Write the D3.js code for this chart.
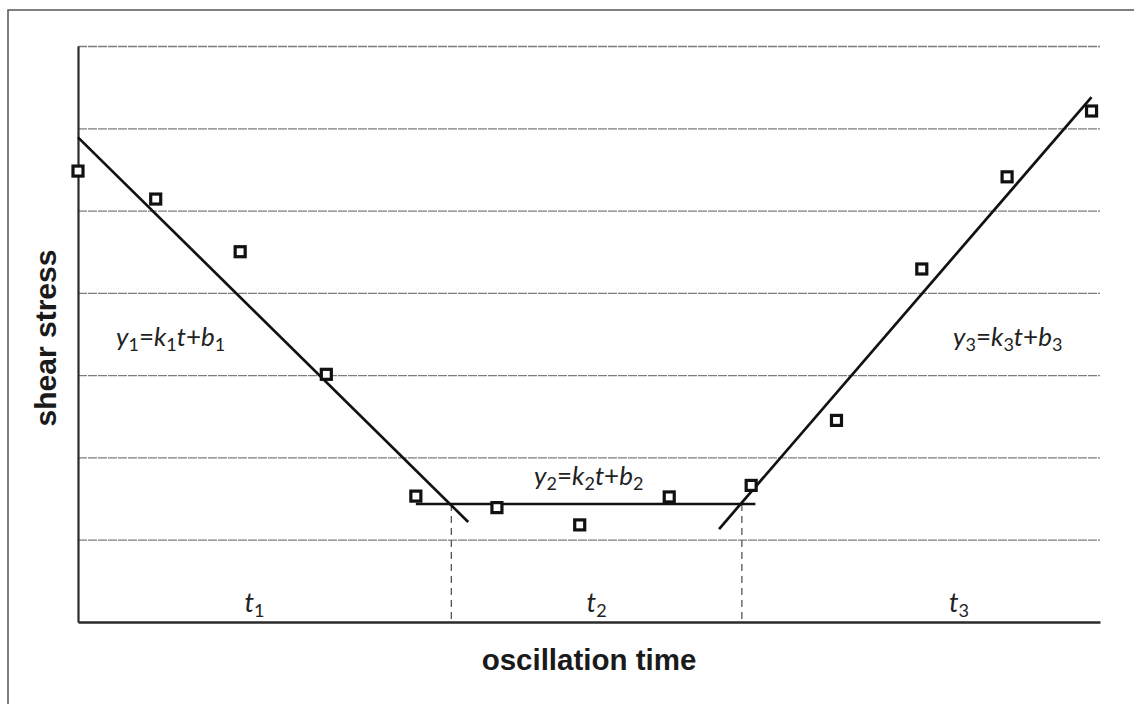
<!DOCTYPE html>
<html>
<head>
<meta charset="utf-8">
<script src="https://cdn.jsdelivr.net/npm/d3@7"></script>
<style>
  body { margin: 0; background: #fff; }
  svg { display: block; }
</style>
</head>
<body>
<div id="container"></div>
<script>
const times  = [0, 0.92, 1.92, 2.94, 4.0, 4.96, 5.94, 7.0, 7.97, 8.98, 9.99, 11.0, 12.0];
const stress = [5.48, 5.14, 4.50, 3.01, 1.53, 1.39, 1.18, 1.52, 1.66, 2.45, 4.29, 5.41, 6.21];

// fitted segments: [t start, stress start, t end, stress end]
const fit1 = [0.0, 5.89, 4.62, 1.215];
const fit2 = [4.0, 1.434, 8.02, 1.434];
const fit3 = [7.59, 1.13, 12.0, 6.38];

// stage boundaries and labels
const boundaries = [4.42, 7.86];
const stageNames = ["1", "2", "3"];
const stageCenters = [2.09, 6.14, 10.43];

// grid levels
const gridLevels = [1, 2, 3, 4, 5, 6, 7];

// equation labels: index, t position, stress position
const eqIndex = ["1", "2", "3"];
const eqT = [0.45, 5.4, 10.36];
const eqV = [3.35, 1.67, 3.35];

const W = 1134, H = 704;
const margin = { top: 46, right: 34, bottom: 82, left: 78 };
const width = W - margin.left - margin.right;
const height = H - margin.top - margin.bottom;

const svg = d3.select("#container").append("svg")
    .attr("width", W)
    .attr("height", H);

// outer frame (top and left edges)
svg.append("path")
    .attr("d", `M8,${H} L8,10 L${W},10`)
    .attr("fill", "none")
    .attr("stroke", "#555")
    .attr("stroke-width", 1.5);

const g = svg.append("g")
    .attr("transform", `translate(${margin.left},${margin.top})`);

const x = d3.scaleLinear().domain([0, 12.1]).range([0, width]);
const y = d3.scaleLinear().domain([0, 7]).range([height, 0]);

// horizontal grid
g.append("g")
    .attr("class", "grid")
    .call(d3.axisLeft(y).tickValues(gridLevels).tickSize(-width).tickFormat(""))
    .call(s => s.select(".domain").remove())
    .call(s => s.selectAll("line")
        .attr("stroke", "#7d7d7d")
        .attr("stroke-width", 1.3)
        .attr("stroke-dasharray", "9,1"));

// axes
g.append("g")
    .attr("transform", `translate(0,${height})`)
    .call(d3.axisBottom(x).tickValues([]).tickSizeOuter(0))
    .call(s => s.select(".domain").attr("stroke", "#2a2a2a").attr("stroke-width", 2.4));

g.append("g")
    .call(d3.axisLeft(y).tickValues([]).tickSizeOuter(0))
    .call(s => s.select(".domain").attr("stroke", "#2a2a2a").attr("stroke-width", 2.2));

// stage boundaries
g.append("g").selectAll("line")
    .data(boundaries)
  .enter().append("line")
    .attr("x1", d => x(d))
    .attr("x2", d => x(d))
    .attr("y1", y(fit2[1]))
    .attr("y2", y(0))
    .attr("stroke", "#555")
    .attr("stroke-width", 1.3)
    .attr("stroke-dasharray", "7,5");

// fitted lines
g.append("g").selectAll("line")
    .data([fit1, fit2, fit3])
  .enter().append("line")
    .attr("x1", d => x(d[0]))
    .attr("y1", d => y(d[1]))
    .attr("x2", d => x(d[2]))
    .attr("y2", d => y(d[3]))
    .attr("stroke", "#111")
    .attr("stroke-width", 2.7);

// data markers
const pts = times.map((t, i) => ({ t: t, v: stress[i] }));
g.append("g").selectAll("rect")
    .data(pts)
  .enter().append("rect")
    .attr("x", d => x(d.t) - 5)
    .attr("y", d => y(d.v) - 5)
    .attr("width", 10)
    .attr("height", 10)
    .attr("fill", "#fff")
    .attr("stroke", "#111")
    .attr("stroke-width", 3.2);

const mathFont = "Lato, 'Open Sans', sans-serif";

// stage labels t1, t2, t3
stageNames.forEach((n, i) => {
    const t = g.append("text")
        .attr("x", x(stageCenters[i]))
        .attr("y", height - 10)
        .attr("text-anchor", "middle")
        .attr("font-family", mathFont)
        .attr("font-size", 27)
        .attr("fill", "#222");
    t.append("tspan").attr("font-style", "italic").text("t");
    t.append("tspan").attr("font-size", 18).attr("dy", 5).text(n);
});

// equations y_i = k_i t + b_i
eqIndex.forEach((n, i) => {
    const t = g.append("text")
        .attr("x", x(eqT[i]))
        .attr("y", y(eqV[i]))
        .attr("font-family", mathFont)
        .attr("font-size", 26)
        .attr("fill", "#222");
    const parts = [["y", n], ["=", null], ["k", n], ["t", null], ["+", null], ["b", n]];
    let shifted = false;
    parts.forEach(([main, sub]) => {
        const m = t.append("tspan")
            .attr("font-style", /[a-z]/.test(main) ? "italic" : "normal")
            .text(main);
        if (shifted) { m.attr("dy", -5); shifted = false; }
        if (sub) {
            t.append("tspan").attr("font-size", 18).attr("dy", 5).text(sub);
            shifted = true;
        }
    });
});

// axis titles
svg.append("text")
    .attr("x", 589)
    .attr("y", 670)
    .attr("text-anchor", "middle")
    .attr("font-family", "'Liberation Sans', Arial, sans-serif")
    .attr("font-weight", "bold")
    .attr("font-size", 29.5)
    .attr("fill", "#1a1a1a")
    .text("oscillation time");

svg.append("text")
    .attr("transform", `translate(56,338) rotate(-90)`)
    .attr("text-anchor", "middle")
    .attr("font-family", "'Liberation Sans', Arial, sans-serif")
    .attr("font-weight", "bold")
    .attr("font-size", 30)
    .attr("fill", "#1a1a1a")
    .text("shear stress");
</script>
</body>
</html>
